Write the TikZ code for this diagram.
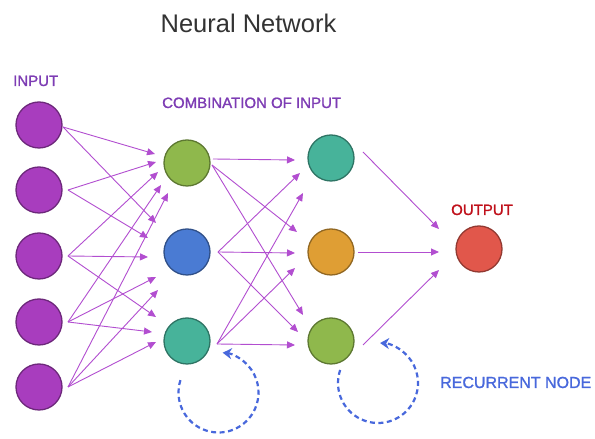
\documentclass[tikz,border=0pt]{standalone}
\usepackage{fontspec}
\setmainfont{Liberation Sans}
\newfontfamily\lblfont[FakeBold=1.2]{Liberation Sans}
\usetikzlibrary{arrows.meta}
\definecolor{nnpurple}{RGB}{168,61,190}
\definecolor{nngreen}{RGB}{143,184,76}
\definecolor{nnblue}{RGB}{74,123,211}
\definecolor{nnteal}{RGB}{71,179,154}
\definecolor{nnorange}{RGB}{223,158,52}
\definecolor{nnred}{RGB}{225,87,75}
\definecolor{nnlink}{RGB}{178,78,208}
\definecolor{nnlabel}{RGB}{125,60,180}
\definecolor{nnoutlbl}{RGB}{192,16,26}
\definecolor{nnloop}{RGB}{72,104,220}
\definecolor{nntitle}{RGB}{51,51,51}

\begin{document}
\begin{tikzpicture}[x=1pt, y=1pt,
  neuron/.style={circle, line width=1.3pt, minimum size=46pt, inner sep=0pt},
  link/.style={draw=nnlink, line width=0.9pt, -{Triangle[length=8pt,width=7pt]}},
  recur/.style={draw=nnloop, line width=2.2pt, dash pattern=on 5pt off 3.5pt, -{Stealth[length=9pt,width=11pt]}},
  lbl/.style={font=\lblfont\fontsize{15}{18}\selectfont, anchor=base west, inner sep=0pt}]
\fill[white] (0,0) rectangle (595,435);
% Title
\node[font=\fontsize{25.5}{30}\selectfont, text=nntitle, anchor=base, inner sep=0pt] (title) at (248.5,402) {Neural Network};
% Input layer
\foreach \n/\y in {1/310,2/245,3/179,4/113,5/48} {
  \node[neuron, fill=nnpurple, draw=nnpurple!65!black] (in\n) at (39,\y) {};
}
\node[lbl, text=nnlabel] (inlbl) at (13,349) {INPUT};
% Combination layer
\node[neuron, fill=nngreen, draw=nngreen!65!black] (c1) at (187,272) {};
\node[neuron, fill=nnblue, draw=nnblue!65!black] (c2) at (187,183) {};
\node[neuron, fill=nnteal, draw=nnteal!65!black] (c3) at (187,94) {};
\node[lbl, text=nnlabel] (comblbl) at (162,327) {COMBINATION OF INPUT};
% Recurrent layer
\node[neuron, fill=nnteal, draw=nnteal!65!black] (r1) at (331,277) {};
\node[neuron, fill=nnorange, draw=nnorange!65!black] (r2) at (331,183) {};
\node[neuron, fill=nngreen, draw=nngreen!65!black] (r3) at (331,94) {};
% Output
\node[neuron, fill=nnred, draw=nnred!65!black] (out) at (479,186) {};
\node[lbl, text=nnoutlbl] (outlbl) at (451,220) {OUTPUT};
% Connections
\foreach \a/\sx/\sy/\b/\ex/\ey in {
    in1/24/-2/c1/-32/9, in2/29/0/c1/-31/1, in3/29/0/c1/-29/-9, in4/29/0/c1/-26/-22, in5/29/0/c1/-19/-30,
    in1/24/-2/c2/-31/29, in2/29/0/c2/-39/14, in3/29/0/c2/-39/-5, in4/29/0/c2/-31/-25, in5/29/0/c2/-29/-38,
    in3/29/0/c3/-31/24, in4/29/0/c3/-35/9, in5/29/0/c3/-31/-1} {
  \draw[link] ([shift={(\sx,\sy)}]\a.center) -- ([shift={(\ex,\ey)}]\b.center);
}
\foreach \a/\sx/\sy/\b/\ex/\ey in {
    c1/26/4/r1/-36/-2, c1/25/-2/r2/-34/20, c1/25/-2/r3/-28/26,
    c2/31/0/r1/-31/-15, c2/31/0/r2/-36/-1, c2/31/0/r3/-33/9,
    c3/30/-3/r1/-28/-35, c3/30/-3/r2/-36/-16, c3/30/-3/r3/-36/-4} {
  \draw[link] ([shift={(\sx,\sy)}]\a.center) -- ([shift={(\ex,\ey)}]\b.center);
}
\foreach \a/\sx/\sy/\ex/\ey in {r1/32/6/-40/20, r2/27/0/-40/-3, r3/32/-4/-40/-21} {
  \draw[link] ([shift={(\sx,\sy)}]\a.center) -- ([shift={(\ex,\ey)}]out.center);
}
% Recurrent loops
\coordinate (loopa) at ([shift={(31.5,-51.5)}]c3.center);
\coordinate (loopb) at ([shift={(47,-42)}]r3.center);
\draw[recur] ([shift={(162:40)}]loopa) arc[start angle=162, end angle=444, radius=40pt];
\draw[recur] ([shift={(161:40)}]loopb) arc[start angle=161, end angle=447, radius=40pt];
\node[lbl, text=nnloop, font=\lblfont\fontsize{16}{19}\selectfont] (reclbl) at (440,47) {RECURRENT NODE};
\end{tikzpicture}
\end{document}
